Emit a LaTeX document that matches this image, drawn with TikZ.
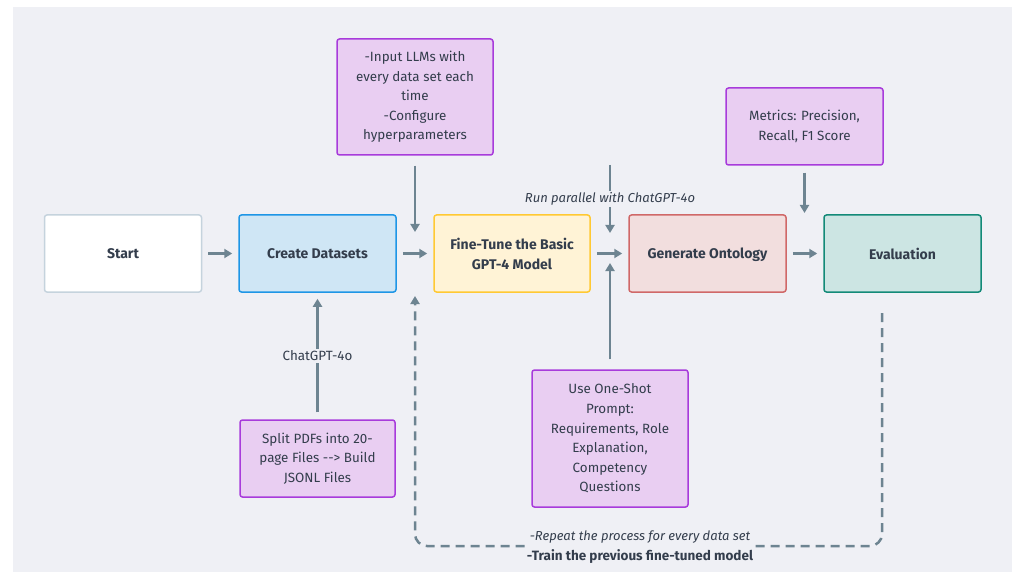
\documentclass[tikz,border=0pt]{standalone}
\usepackage{fontspec}
\setmainfont{Fira Sans}
\usetikzlibrary{arrows.meta}
\definecolor{bgc}{RGB}{239,240,245}
\definecolor{arr}{HTML}{6D8491}
\definecolor{txt}{HTML}{333D4C}
\definecolor{startb}{HTML}{C5D3DD}
\definecolor{createf}{HTML}{CFE6F5}
\definecolor{createb}{HTML}{1E96E6}
\definecolor{finef}{HTML}{FFF3D6}
\definecolor{fineb}{HTML}{FFC933}
\definecolor{genf}{HTML}{F2DEDE}
\definecolor{genb}{HTML}{D06868}
\definecolor{evalf}{HTML}{CCE5E3}
\definecolor{evalb}{HTML}{138A78}
\definecolor{purf}{HTML}{E9CEF2}
\definecolor{purb}{HTML}{A83BDB}
\begin{document}
\begin{tikzpicture}[x=1pt,y=-1pt,
  every node/.style={text=txt, font=\fontsize{13.4}{19.6}\selectfont},
  mainbox/.style={draw, line width=1.5pt, rounded corners=2.5pt, minimum width=157pt, minimum height=77pt, align=center, inner sep=2pt, font=\fontsize{14}{20}\selectfont\bfseries},
  notebox/.style={draw=purb, fill=purf, line width=1.5pt, rounded corners=2.5pt, align=center, inner sep=2pt},
  flow/.style={draw=arr, line width=2.5pt, -{Triangle[length=8pt,width=9pt]}},
  lbl/.style={fill=bgc, inner sep=2pt}
]
\useasboundingbox (0,0) rectangle (1012,572);
\fill[white] (0,0) rectangle (1012,572);
\fill[bgc] (13,7) rectangle (1012,572);

% main flow boxes
\node[mainbox, draw=startb, fill=white] (start) at (123,253.5) {Start};
\node[mainbox, draw=createb, fill=createf] (create) at (317.5,253.5) {Create Datasets};
\node[mainbox, draw=fineb, fill=finef, minimum width=156pt] (fine) at (512,253.5) {Fine-Tune the Basic\\GPT-4 Model};
\node[mainbox, draw=genb, fill=genf, text depth=0pt] (gen) at (707.5,253.5) {Generate Ontology};
\node[mainbox, draw=evalb, fill=evalf] (eval) at (902.5,253.5) {Evaluation};

% note boxes
\node[notebox, minimum width=156pt, minimum height=116pt] (input) at (415,97)
  {-Input LLMs with\\every data set each\\time\\-Configure\\hyperparameters};
\node[notebox, minimum width=157pt, minimum height=77pt] (metrics) at (804.5,126.5)
  {Metrics: Precision,\\Recall, F1 Score};
\node[notebox, minimum width=155pt, minimum height=77pt] (split) at (317.5,458.5)
  {Split PDFs into 20-\\page Files -{}-{}> Build\\JSONL Files};
\node[notebox, minimum width=156pt, minimum height=137pt] (oneshot) at (610,438.5)
  {Use One-Shot\\Prompt:\\Requirements, Role\\Explanation,\\Competency\\Questions};

% free ends
\coordinate (inEnd) at (415,232);
\coordinate (rpStart) at (610,165);
\coordinate (rpEnd) at (610,233);
\coordinate (osEnd) at (610,263);
\coordinate (mEnd) at (804.5,213);
\coordinate (loopA) at (882,313);
\coordinate (loopB) at (882,546);
\coordinate (loopC) at (415,546);
\coordinate (loopD) at (415,296);

% horizontal arrows
\draw[flow, shorten <=6pt, shorten >=6pt] (start) -- (create);
\draw[flow, shorten <=6pt, shorten >=6pt] (create) -- (fine);
\draw[flow, shorten <=6pt, shorten >=6pt] (fine) -- (gen);
\draw[flow, shorten <=6pt, shorten >=6pt] (gen) -- (eval);

% vertical arrows
\draw[flow, shorten <=10pt] (input.south) -- (inEnd);
\draw[flow] (rpStart) -- node[lbl, font=\fontsize{13}{19.5}\selectfont\itshape] {Run parallel with ChatGPT-4o} (rpEnd);
\draw[flow, shorten <=7pt] (metrics.south) -- (mEnd);
\draw[flow, shorten <=10pt] (oneshot.north) -- (osEnd);
\draw[flow, shorten <=7pt, shorten >=6pt] (split.north) -- node[lbl] {ChatGPT-4o} (create.south);

% dashed loop
\draw[flow, dash pattern=on 9pt off 6pt, rounded corners=12pt] (loopA) -- (loopB) -- (loopC) -- (loopD);
\node[lbl, align=center, inner sep=1pt] (loopLbl) at (640,547)
  {\fontsize{13}{19.5}\selectfont\itshape -Repeat the process for every data set\\\fontsize{13.5}{19.5}\selectfont\bfseries\upshape -Train the previous fine-tuned model};
\end{tikzpicture}
\end{document}
